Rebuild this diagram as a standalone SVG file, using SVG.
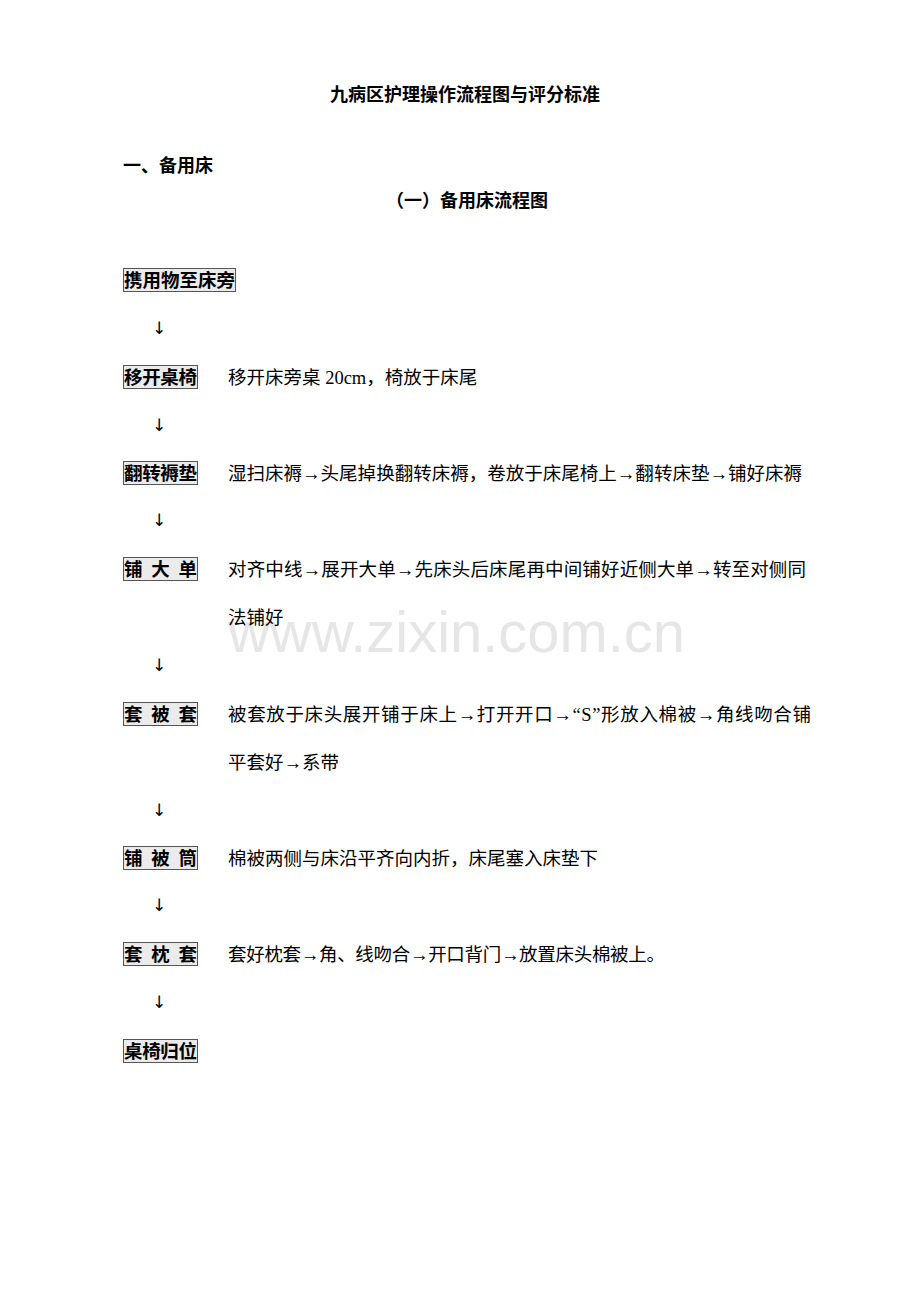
<svg xmlns="http://www.w3.org/2000/svg" width="920" height="1302" viewBox="0 0 920 1302">
<style>
.hd{font-family:"Liberation Sans","Noto Sans CJK SC",sans-serif;font-size:18px;font-weight:bold;fill:#000}
.lb{font-family:"Liberation Sans","Noto Sans CJK SC",sans-serif;font-size:18.5px;font-weight:bold;fill:#000}
.ds{font-family:"Liberation Serif","Noto Sans CJK SC",serif;font-size:18.5px;fill:#000}
.ar{font-family:"DejaVu Sans",sans-serif;font-size:17px;fill:#000}
.bx{fill:#ebebeb;stroke:#555;stroke-width:1}
.wm{font-family:"Liberation Sans",Arial,sans-serif;font-size:57px;fill:#e6e6e6}
</style>
<rect width="920" height="1302" fill="#fff"/>
<text class="wm" x="228" y="652" textLength="457" lengthAdjust="spacingAndGlyphs">www.zixin.com.cn</text>
<text class="hd" x="465" y="101" text-anchor="middle">九病区护理操作流程图与评分标准</text>
<text class="hd" x="123" y="172">一、备用床</text>
<text class="hd" x="467" y="207" text-anchor="middle">（一）备用床流程图</text>

<g id="n1"><rect class="bx" x="123.5" y="268.5" width="112" height="23"/><text class="lb" x="124" y="287" textLength="111">携用物至床旁</text></g>
<g id="n2"><rect class="bx" x="123.5" y="365.5" width="74" height="23"/><text class="lb" x="124" y="384" textLength="73">移开桌椅</text><text class="ds" x="228" y="384">移开床旁桌 20cm，椅放于床尾</text></g>
<g id="n3"><rect class="bx" x="123.5" y="461.5" width="74" height="23"/><text class="lb" x="124" y="480" textLength="73">翻转褥垫</text><text class="ds" x="228" y="480" textLength="574">湿扫床褥→头尾掉换翻转床褥，卷放于床尾椅上→翻转床垫→铺好床褥</text></g>
<g id="n4"><rect class="bx" x="123.5" y="557.5" width="74" height="23"/><text class="lb" x="124" y="576" textLength="73">铺 大 单</text><text class="ds" x="228" y="576" textLength="578">对齐中线→展开大单→先床头后床尾再中间铺好近侧大单→转至对侧同</text><text class="ds" x="228" y="624">法铺好</text></g>
<g id="n5"><rect class="bx" x="123.5" y="702.5" width="74" height="23"/><text class="lb" x="124" y="721" textLength="73">套 被 套</text><text class="ds" x="228" y="721" textLength="583">被套放于床头展开铺于床上→打开开口→“S”形放入棉被→角线吻合铺</text><text class="ds" x="228" y="769">平套好→系带</text></g>
<g id="n6"><rect class="bx" x="123.5" y="846.5" width="74" height="23"/><text class="lb" x="124" y="865" textLength="73">铺 被 筒</text><text class="ds" x="228" y="865">棉被两侧与床沿平齐向内折，床尾塞入床垫下</text></g>
<g id="n7"><rect class="bx" x="123.5" y="942.5" width="74" height="23"/><text class="lb" x="124" y="961" textLength="73">套 枕 套</text><text class="ds" x="228" y="961" textLength="437">套好枕套→角、线吻合→开口背门→放置床头棉被上。</text></g>
<g id="n8"><rect class="bx" x="123.5" y="1039.5" width="74" height="23"/><text class="lb" x="124" y="1058" textLength="73">桌椅归位</text></g>

<g id="connectors">
<text class="ar" x="159" y="334" text-anchor="middle">↓</text>
<text class="ar" x="159" y="431" text-anchor="middle">↓</text>
<text class="ar" x="159" y="526" text-anchor="middle">↓</text>
<text class="ar" x="159" y="671" text-anchor="middle">↓</text>
<text class="ar" x="159" y="816" text-anchor="middle">↓</text>
<text class="ar" x="159" y="911" text-anchor="middle">↓</text>
<text class="ar" x="159" y="1008" text-anchor="middle">↓</text>
</g>
</svg>
